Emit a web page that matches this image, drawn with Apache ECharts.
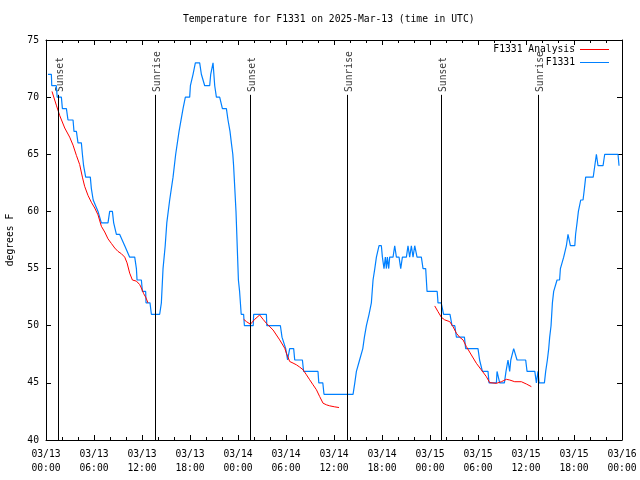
<!DOCTYPE html>
<html>
<head>
<meta charset="utf-8">
<script src="https://cdn.jsdelivr.net/npm/echarts@6/dist/echarts.min.js"></script>
<style>html,body{margin:0;padding:0;background:#fff;}#c{width:640px;height:480px;}</style>
</head>
<body>
<div id="c"></div>
<script>
// Hours since 2025-03-13 00:00 UTC
const obsHours = [0.25,0.67,0.72,1.29,1.4,1.92,2.05,2.55,2.75,3.38,3.5,3.8,4.0,4.42,4.55,4.7,4.83,4.96,5.54,5.67,5.9,6.09,6.5,6.92,7.75,7.96,8.3,8.46,8.8,9.2,9.84,10.05,10.46,11.09,11.3,11.38,11.92,12.05,12.46,12.5,13.0,13.17,14.21,
14.42,14.63,14.9,15.1,15.46,15.88,16.21,16.63,17.13,17.42,17.96,18.05,18.38,18.67,19.21,19.42,19.6,19.84,20.46,20.59,20.88,21.09,21.3,21.71,22.05,22.55,22.75,23.0,23.17,23.35,23.45,23.6,23.75,23.85,23.95,24.05,24.2,24.4,24.7,24.8,25.9,25.96,27.55,27.6,29.3,29.5,29.75,29.96,30.2,30.3,30.46,30.96,31.09,32.05,32.2,34.0,34.1,34.6,34.75,38.38,
38.6,38.8,39.2,39.4,39.6,39.8,40.05,40.38,40.67,40.88,41.1,41.3,41.63,41.92,42.05,42.25,42.42,42.55,42.67,42.84,42.96,43.38,43.59,43.8,44.13,44.34,44.55,45.05,45.25,45.46,45.67,45.88,46.09,46.38,46.92,47.13,47.46,47.63,48.9,49.0,49.4,49.7,50.5,50.75,51.1,51.3,52.3,52.46,54.0,54.2,54.4,54.55,55.25,55.38,56.3,56.38,56.63,56.71,57.3,57.5,57.75,57.88,57.96,58.1,58.3,58.46,58.6,58.7,58.88,59.96,60.13,61.1,61.2,61.3,61.5,61.63,62.3,
62.46,62.55,62.67,62.84,62.96,63.13,63.3,63.46,63.7,63.88,64.05,64.2,64.3,64.55,64.71,64.88,65.05,65.25,65.38,65.46,65.55,66.1,66.2,66.38,66.55,66.71,66.84,67.13,67.3,67.46,67.63,68.4,68.6,68.8,69.0,69.63,69.84,71.5,71.63];
const obsTemps = [72,72,71,71,70,70,69,69,68,68,67,67,66,66,65,64,64,63,63,62,61,61,60,59,59,60,60,59,58,58,57,57,56,56,55,54,54,53,53,52,52,51,51,
52,55,57,59,61,63,65,67,69,70,70,71,72,73,73,72,72,71,71,72,73,71,70,70,69,69,68,67,66,65,64,62,60,58,56,54,53,51,51,50,50,51,51,50,50,49,49,48,47,47,48,48,47,47,46,46,45,45,44,44,
45,46,47,47,48,49,50,51,52,54,55,56,57,57,56,55,56,55,56,55,56,56,57,56,56,55,56,56,57,56,57,56,57,56,56,55,55,53,53,52,52,51,51,50,50,49,49,48,48,47,47,46,46,45,45,46,46,45,45,46,47,47,46,47,47,48,48,48,47,47,46,46,46,45,46,45,45,
46,46,47,48,49,50,52,53,53,54,54,54,55,55,56,56,57,58,58,58,57,57,58,59,60,60,61,61,62,63,63,63,64,65,64,64,65,65,64];

// Analysis segments (null = gap)
const anaHours = [0.75,1.29,1.71,2.34,2.96,3.38,3.8,4.21,4.55,4.83,5.25,5.67,6.09,6.5,6.92,7.34,7.75,8.17,8.59,9.0,9.42,9.84,10.13,10.46,10.8,11.3,11.71,11.92,12.21,12.46,12.75,
18.0,
24.71,25.05,25.55,26.09,26.71,27.13,27.55,28.38,29.21,29.84,30.05,30.46,30.88,31.3,31.71,32.13,32.55,32.96,33.38,33.8,34.21,34.63,35.05,35.46,36.09,36.63,
42.0,
48.59,49.0,49.42,49.84,50.46,50.88,51.3,51.71,52.13,52.55,53.17,53.8,54.42,55.05,55.46,56.3,56.92,57.55,57.96,58.59,59.42,60.05,60.67];
const anaTemps = [70.5,69.3,68.4,67.3,66.5,65.8,64.9,64.1,63.0,62.2,61.4,60.8,60.3,59.7,58.7,58.2,57.6,57.2,56.8,56.5,56.3,56.0,55.5,54.6,54.0,53.9,53.6,53.3,52.8,52.5,52.0,
null,
50.56,50.36,50.13,50.56,50.94,50.56,50.21,49.63,48.76,48.03,47.6,46.87,46.73,46.58,46.38,46.15,45.71,45.27,44.83,44.4,43.8,43.22,43.08,42.99,42.9,42.84,
null,
51.73,51.23,50.74,50.51,50.36,49.92,49.34,48.99,48.76,48.17,47.44,46.71,46.13,45.54,45.02,44.96,45.1,45.31,45.25,45.1,45.1,44.9,44.67];

const sunHours = [1.5,13.67,25.5,37.63,49.4,61.5];
const sunNames = ['Sunset','Sunrise','Sunset','Sunrise','Sunset','Sunrise'];

const titleText = 'Temperature for F1331 on 2025-Mar-13 (time in UTC)';
const yLabel = 'degrees F';
const obsName = 'F1331';
const anaName = 'F1331 Analysis';

const FONT = 'DejaVu Sans Mono';
const FS = 9.7;
const LINE_TOP = 70.2;   // where the sun marker lines stop (temperature units)
const LABEL_BASE = 70.45;

const obsData = obsHours.map((h,i)=>[h, obsTemps[i]]);
const anaData = anaHours.map((h,i)=>[h, anaTemps[i]===null ? '-' : anaTemps[i]]);
const sunLineData = sunHours.map(h=>[{coord:[h,40]},{coord:[h,LINE_TOP]}]);
const sunLabelData = sunHours.map((h,i)=>({value:[h,LABEL_BASE], name:sunNames[i]}));

function pad(n){return (n<10?'0':'')+n;}
function fmtX(v){
  const d = 13 + Math.floor(v/24 + 1e-9);
  const hr = Math.round(v - (d-13)*24);
  return '03/' + pad(d) + '\n' + pad(hr) + ':00';
}

const chart = echarts.init(document.getElementById('c'), null, {renderer:'canvas'});
const axisCommon = {
  axisLine:{show:true, onZero:false, lineStyle:{color:'#000', width:1}},
  splitLine:{show:false},
  minorSplitLine:{show:false}
};
chart.setOption({
  animation:false,
  backgroundColor:'#fff',
  textStyle:{fontFamily:FONT},
  title:{text:titleText, left:183, top:14, padding:0,
    textStyle:{fontFamily:FONT, fontSize:FS, fontWeight:'normal', color:'#000'}},
  legend:{data:[{name:anaName, icon:'rect'}, {name:obsName, icon:'rect'}], orient:'vertical', right:31, top:43, padding:0,
    align:'right', itemWidth:29, itemHeight:1, itemGap:0,
    textStyle:{fontFamily:FONT, fontSize:FS, color:'#000', lineHeight:13}},
  grid:{left:46, right:18, top:40, bottom:40, containLabel:false, outerBoundsMode:'none'},
  xAxis:[
    Object.assign({type:'value', min:0, max:72, interval:6, position:'bottom',
      axisTick:{show:true, inside:true, length:5, lineStyle:{color:'#000'}},
      minorTick:{show:true, splitNumber:3, length:3, lineStyle:{color:'#000'}},
      axisLabel:{formatter:fmtX, fontFamily:FONT, fontSize:FS, color:'#000', margin:7, lineHeight:14}}, axisCommon),
    Object.assign({type:'value', min:0, max:72, interval:6, position:'top',
      axisTick:{show:true, inside:true, length:5, lineStyle:{color:'#000'}},
      minorTick:{show:true, splitNumber:3, length:3, lineStyle:{color:'#000'}},
      axisLabel:{show:false}}, axisCommon)
  ],
  yAxis:[
    Object.assign({type:'value', min:40, max:75, interval:5, position:'left',
      name:yLabel, nameLocation:'middle', nameRotate:90, nameGap:31,
      nameTextStyle:{fontFamily:FONT, fontSize:FS, color:'#000'},
      axisTick:{show:true, inside:true, length:5, lineStyle:{color:'#000'}},
      axisLabel:{fontFamily:FONT, fontSize:FS, color:'#000', margin:7}}, axisCommon),
    Object.assign({type:'value', min:40, max:75, interval:5, position:'right',
      axisTick:{show:true, inside:true, length:5, lineStyle:{color:'#000'}},
      axisLabel:{show:false}}, axisCommon)
  ],
  series:[
    {name:obsName, type:'line', data:obsData, symbol:'none', showSymbol:false,
      lineStyle:{color:'#0080ff', width:1.2}, itemStyle:{color:'#0080ff'}, z:3,
      markLine:{silent:true, symbol:'none', animation:false,
        lineStyle:{color:'#000', width:1, type:'solid'}, label:{show:false},
        data:sunLineData}},
    {name:anaName, type:'line', data:anaData, symbol:'none', showSymbol:false, connectNulls:false,
      lineStyle:{color:'#ff0000', width:1}, itemStyle:{color:'#ff0000'}, z:4},
    {name:'sun', type:'scatter', data:sunLabelData, symbolSize:0, silent:true,
      label:{show:true, formatter:p=>p.name, position:'inside', rotate:90, align:'left', verticalAlign:'middle',
        offset:[0,2], fontFamily:FONT, fontSize:FS, color:'#000'}}
  ]
});
</script>
</body>
</html>
